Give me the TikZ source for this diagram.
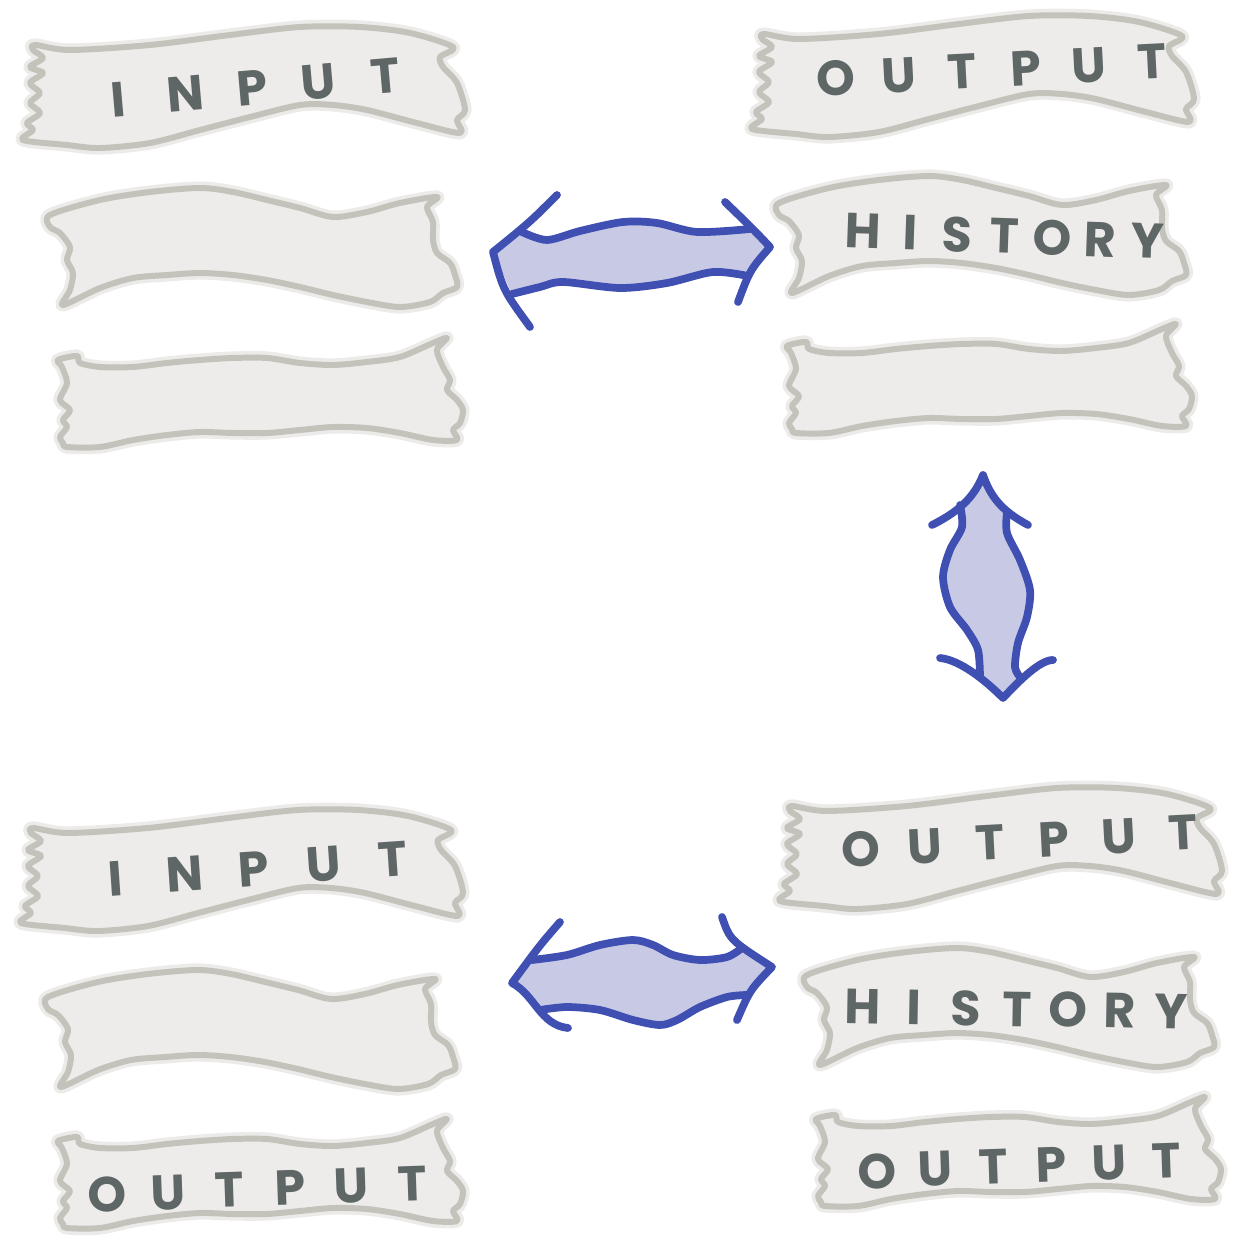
\documentclass[tikz,border=0pt]{standalone}
\usepackage{fontspec}
\setmainfont{Poppins}
\usepackage{xcolor}
\usepackage{tikz}
\usetikzlibrary{calc}
\definecolor{tapefill}{HTML}{EEECEA}
\definecolor{tapeline}{HTML}{C3C3BB}
\definecolor{tapehalo}{HTML}{ECEBE9}
\definecolor{inkgray}{HTML}{5E6666}
\definecolor{arrowline}{HTML}{3F4FB2}
\definecolor{arrowfill}{HTML}{C8CAE5}
\newcommand{\tapeword}[2]{\foreach \ltr in {#2}{\makebox[#1]{\ltr}}}

\begin{document}
\begin{tikzpicture}[
    x=0.02cm,
    y=-0.02cm,
    line join=round,
    line cap=round,
    tape/.style={fill=tapefill, draw=tapeline, line width=3.4pt, preaction={draw=tapehalo, line width=7.5pt}},
    tapetext/.style={font=\fontsize{28}{30}\selectfont\bfseries, text=inkgray, inner sep=0pt},
    arrowbody/.style={fill=arrowfill},
    arrowedge/.style={draw=arrowline, line width=4.4pt},
    tapeA/.pic={
      \filldraw[tape] plot[smooth cycle, tension=0.5] coordinates {(35,45) (70,50) (150,45) (230,35) (300,27) (360,27) (410,33) (453,47) (440,57) (443,67) (457,83) (465,110) (457,120) (460,133) (417,123) (367,110) (333,105) (300,105) (250,117) (200,130) (150,143) (100,148) (67,145) (23,140) (33,130) (27,123) (40,113) (30,103) (40,93) (30,83) (43,73) (30,67) (43,58) (33,50)};
    },
    tapeB/.pic={
      \filldraw[tape] plot[smooth cycle, tension=0.5] coordinates {(50,215) (100,200) (150,192) (200,188) (233,192) (267,200) (300,208) (333,217) (367,212) (400,203) (437,197) (427,207) (433,222) (433,240) (437,253) (450,263) (455,275) (457,287) (443,293) (430,302) (400,307) (367,302) (333,295) (300,287) (267,280) (233,275) (200,273) (167,275) (133,278) (100,288) (63,305) (70,290) (73,273) (67,260) (70,247) (60,233) (50,227)};
    },
    tapeC/.pic={
      \filldraw[tape] plot[smooth cycle, tension=0.5] coordinates {(58,360) (77,356) (80,363) (100,367) (133,367) (167,363) (200,360) (233,358) (267,358) (300,363) (333,365) (367,362) (400,357) (433,343) (447,338) (437,350) (443,367) (450,380) (447,390) (457,400) (463,410) (460,423) (453,430) (457,440) (433,440) (400,433) (367,428) (333,427) (300,430) (267,433) (233,433) (200,432) (167,435) (133,440) (100,447) (67,447) (63,443) (60,437) (67,427) (63,420) (70,410) (60,400) (67,383) (62,367)};
    }
]
\useasboundingbox (0,0) rectangle (1241,1240);

% left column, top
\pic at (0,0) {tapeA};
\pic at (0,0) {tapeB};
\pic at (0,0) {tapeC};
% right column, top
\pic at (729,-11) {tapeA};
\pic at (729,-12) {tapeB};
\pic at (729,-14) {tapeC};
% left column, bottom
\pic at (-2,783) {tapeA};
\pic at (-2,782) {tapeB};
\pic at (0,781) {tapeC};
% right column, bottom
\pic at (757,761) {tapeA};
\pic at (757,760) {tapeB};
\pic at (758,759) {tapeC};

\node[tapetext, rotate=5] (inputA) at (252,88) {\tapeword{1.34cm}{I,N,P,U,T}};
\node[tapetext, rotate=3] (outputA) at (994,70) {\tapeword{1.27cm}{O,U,T,P,U,T}};
\node[tapetext, rotate=-2] (historyA) at (1005,236) {\tapeword{0.95cm}{H,I,S,T,O,R,Y}};
\node[tapetext, rotate=4] (inputB) at (254,869) {\tapeword{1.39cm}{I,N,P,U,T}};
\node[tapetext, rotate=2] (outputB) at (260,1189) {\tapeword{1.22cm}{O,U,T,P,U,T}};
\node[tapetext, rotate=3] (outputC) at (1022,841) {\tapeword{1.29cm}{O,U,T,P,U,T}};
\node[tapetext, rotate=-1] (historyB) at (1017,1009) {\tapeword{1.03cm}{H,I,S,T,O,R,Y}};
\node[tapetext, rotate=2] (outputD) at (1022,1166) {\tapeword{1.16cm}{O,U,T,P,U,T}};

% top double arrow
\coordinate (hAl) at (493,252);
\coordinate (hAr) at (770,247);
\fill[arrowbody] (hAl) -- (522,232) -- plot[smooth] coordinates {(522,232) (547,240) (580,231) (623,222) (657,223) (697,232) (750,229)} -- (hAr) -- (748,276) -- plot[smooth] coordinates {(748,276) (713,272) (667,283) (620,288) (563,282) (540,287) (512,294)} -- cycle;
\draw[arrowedge] plot[smooth] coordinates {(522,232) (547,240) (580,231) (623,222) (657,223) (697,232) (750,229)};
\draw[arrowedge] plot[smooth] coordinates {(512,294) (540,287) (563,282) (620,288) (667,283) (713,272) (748,276)};
\draw[arrowedge] (557,195) .. controls (530,222) .. (hAl) .. controls (503,290) .. (530,327);
\draw[arrowedge] (725,202) .. controls (752,228) .. (hAr) .. controls (750,270) .. (738,302);

% bottom double arrow
\coordinate (hBl) at (512,983);
\coordinate (hBr) at (772,967);
\fill[arrowbody] (hBl) -- (532,960) -- plot[smooth] coordinates {(532,960) (567,955) (600,945) (633,940) (653,945) (673,955) (700,960) (727,957) (742,948)} -- (hBr) -- (746,995) -- plot[smooth] coordinates {(746,995) (727,997) (700,1007) (677,1020) (660,1025) (633,1020) (600,1010) (567,1007) (540,1010)} -- cycle;
\draw[arrowedge] plot[smooth] coordinates {(532,960) (567,955) (600,945) (633,940) (653,945) (673,955) (700,960) (727,957) (742,948)};
\draw[arrowedge] plot[smooth] coordinates {(540,1010) (567,1007) (600,1010) (633,1020) (660,1025) (677,1020) (700,1007) (727,997) (746,995)};
\draw[arrowedge] (560,922) .. controls (540,945) .. (hBl) .. controls (535,995) and (540,1025) .. (568,1028);
\draw[arrowedge] (722,917) .. controls (730,940) .. (hBr) .. controls (750,990) .. (737,1020);

% vertical double arrow
\coordinate (vAt) at (983,475);
\coordinate (vAb) at (1003,698);
\fill[arrowbody] (vAt) -- (960,505) -- plot[smooth] coordinates {(960,505) (962,527) (950,550) (943,577) (950,607) (967,630) (978,650) (980,677)} -- (vAb) -- (1020,677) -- plot[smooth] coordinates {(1020,677) (1015,667) (1018,643) (1027,617) (1030,590) (1020,560) (1007,533) (1007,512)} -- cycle;
\draw[arrowedge] plot[smooth] coordinates {(960,505) (962,527) (950,550) (943,577) (950,607) (967,630) (978,650) (980,677)};
\draw[arrowedge] plot[smooth] coordinates {(1007,512) (1007,533) (1020,560) (1030,590) (1027,617) (1018,643) (1015,667) (1020,677)};
\draw[arrowedge] (932,525) .. controls (962,510) and (975,495) .. (vAt) .. controls (990,495) and (1000,510) .. (1028,525);
\draw[arrowedge] (940,658) .. controls (960,660) and (985,680) .. (vAb) .. controls (1020,680) and (1040,660) .. (1053,660);
\end{tikzpicture}
\end{document}
